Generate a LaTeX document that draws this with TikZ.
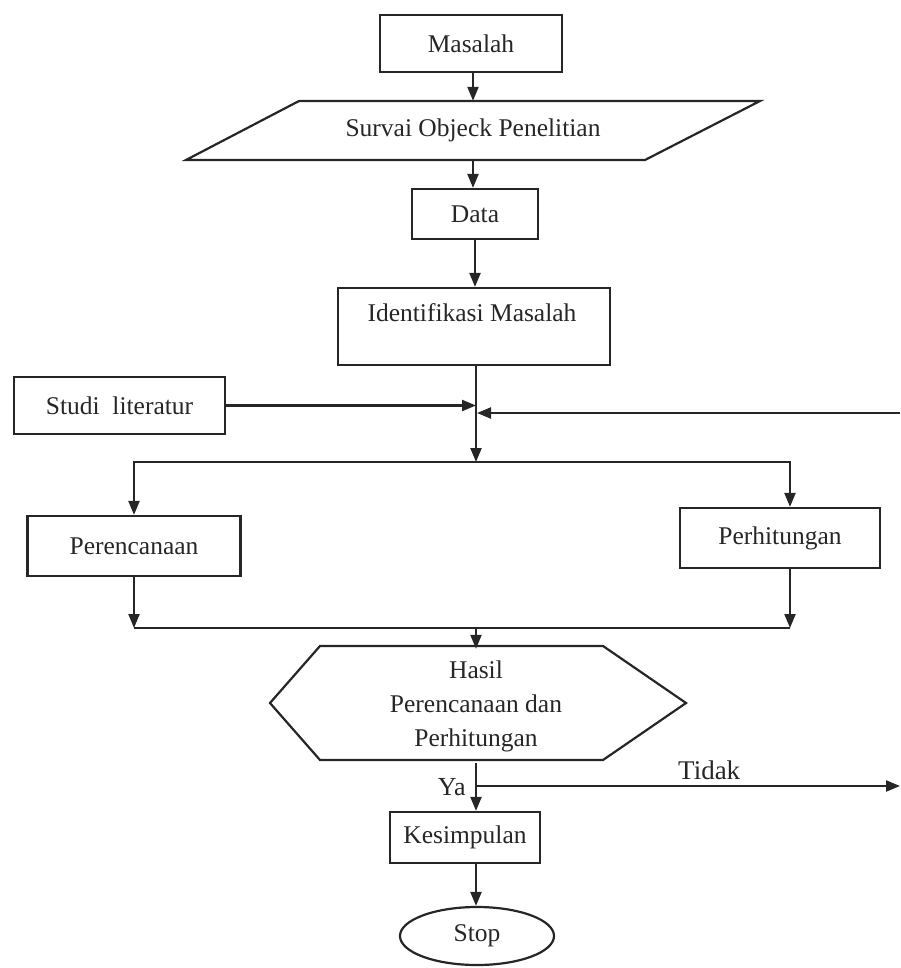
\documentclass[tikz,border=0pt]{standalone}
\usepackage{fontspec}
\setmainfont{Liberation Serif}
\usetikzlibrary{shapes.geometric,arrows.meta,calc}
\begin{document}
\begin{tikzpicture}[x=1pt,y=-1pt,
  every node/.style={font=\fontsize{25.5}{32}\selectfont, text=black!85},
  box/.style={draw=black!85, line width=2.2pt, rectangle, inner sep=0pt},
  shapeline/.style={draw=black!85, line width=2.2pt, line join=miter},
  arr/.style={draw=black!85, line width=2.2pt, -{Triangle[length=14pt,width=11pt]}},
  ln/.style={draw=black!85, line width=2.2pt}]
\useasboundingbox (0,0) rectangle (901,968);

% nodes
\node[box, minimum width=182, minimum height=57] (masalah) at (471,43.5) {Masalah};
\node[minimum width=300, minimum height=59, inner sep=0pt] (survai) at (473,130.5) {Survai Objeck Penelitian};
\draw[shapeline] (299,101) -- (760,101) -- (645,160) -- (186,160) -- cycle;
\node[box, minimum width=126, minimum height=50] (data) at (475,214) {Data};
\node[box, minimum width=272, minimum height=77] (ident) at (474,326.5) {};
\node (identtext) at (472,313) {Identifikasi Masalah};
\node[box, minimum width=211, minimum height=57] (studi) at (119.5,405.5) {Studi\ \ literatur};
\node[box, minimum width=213, minimum height=60] (perenc) at (134,546) {Perencanaan};
\node[box, minimum width=200, minimum height=60] (perhit) at (780,538) {Perhitungan};
\node[minimum width=260, minimum height=114, inner sep=0pt, align=center,
      font=\fontsize{25.5}{34}\selectfont] (hasil) at (476,706) {Hasil\\Perencanaan dan\\Perhitungan};
\draw[shapeline] (270,703) -- (320,646) -- (603,646) -- (686,703) -- (603,760) -- (320,760) -- cycle;
\node[box, minimum width=150, minimum height=51] (kesim) at (465,837.5) {Kesimpulan};
\node[draw=black!85, line width=2.2pt, ellipse, minimum width=154, minimum height=58, inner sep=0pt] (stop) at (477,936) {Stop};

% coordinates
\coordinate (split) at (476,462);
\coordinate (merge) at (476,628);
\coordinate (loopstart) at (900,413);
\coordinate (tidakend) at (900,786);
\coordinate (tidakstart) at (476,786);

% connectors
\draw[arr] (masalah.south -| survai.north) -- (survai.north);
\draw[arr] (survai.south) -- (survai.south |- data.north);
\draw[arr] (data.south) -- (data.south |- ident.north);
\draw[arr] (ident.south -| split) -- (split);
\draw[arr] (studi.east) -- (studi.east -| split);
\draw[arr] (loopstart) -- ($(loopstart -| split)+(1,0)$);
\draw[arr] (split) -| (perenc.north);
\draw[arr] (split) -| ([xshift=10]perhit.north);
\draw[arr] (perenc.south) -- (perenc.south |- merge);
\draw[arr] ([xshift=10]perhit.south) -- ([xshift=10]perhit.south |- merge);
\draw[ln] (perenc.south |- merge) -- ([xshift=10]perhit.south |- merge);
\draw[arr] (merge) -- (hasil.north -| merge);
\draw[arr] (hasil.south -| merge) -- (merge |- kesim.north)
  node[pos=0.5, left=6pt, font=\fontsize{26}{28}\selectfont] {Ya};
\draw[arr] (tidakstart) -- (tidakend)
  node[pos=0.55, above=2pt, font=\fontsize{27}{30}\selectfont] {Tidak};
\draw[arr] (kesim.south -| merge) -- (merge |- stop.north);
\end{tikzpicture}
\end{document}
